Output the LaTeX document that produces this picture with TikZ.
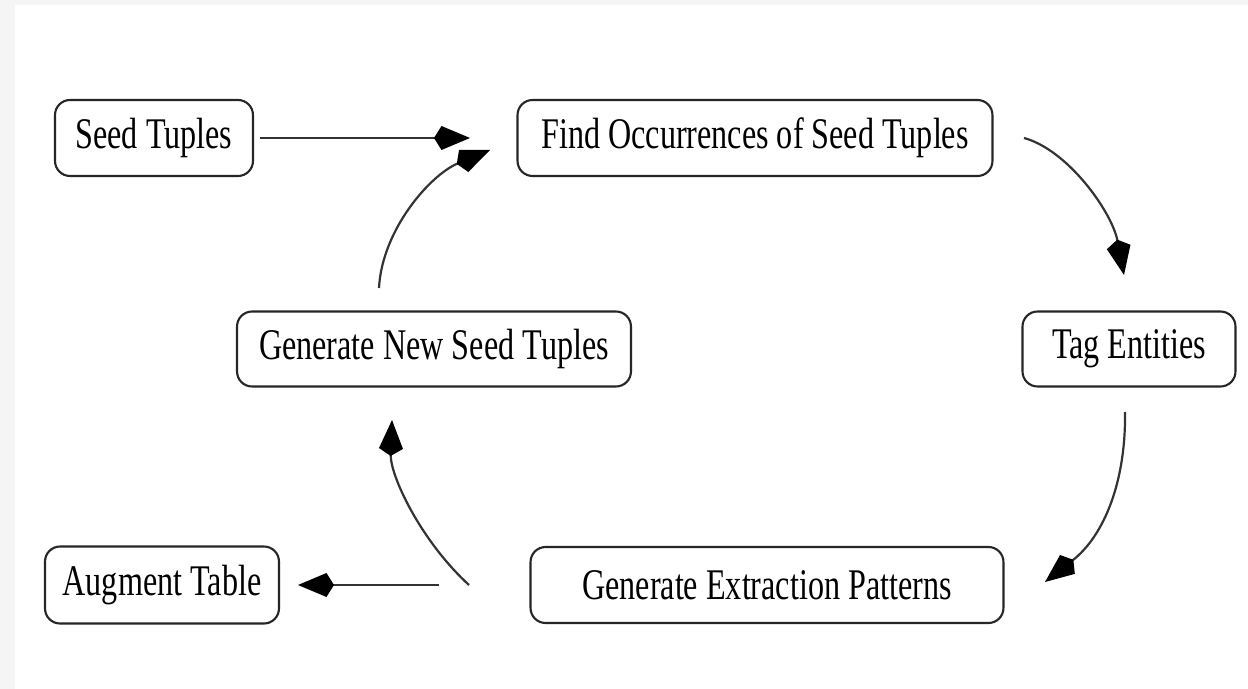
\documentclass[tikz,border=0pt]{standalone}
\usepackage{fontspec}
\setmainfont{Liberation Serif}
\usetikzlibrary{arrows.meta}

% tall, narrow lettering used in the stage boxes
\newcommand{\stagetext}[1]{\scalebox{1}[1.36]{#1}}

\tikzset{
  stage/.style={draw=black!85, line width=1.2pt, rounded corners=0.3cm,
    fill=white, font=\fontsize{18.3}{22}\selectfont, text=black},
  flow/.style={draw=black!80, line width=1.25pt,
    -{Kite[length=0.72cm, width=0.48cm, inset=0.15cm, fill=black, color=black]}},
}

\begin{document}
\begin{tikzpicture}[x=0.02cm, y=-0.02cm]
  % page background with a light margin band
  \fill[black!4] (0,0) rectangle (1248,689);
  \fill[white] (15,5) rectangle (1248,689);
  \useasboundingbox (0,0) rectangle (1248,689);

  % stages of the bootstrapping loop
  \node[stage, minimum width=3.96cm, minimum height=1.52cm] (seed) at (154,138) {\stagetext{Seed Tuples}};
  \node[stage, minimum width=9.5cm, minimum height=1.52cm] (find) at (755,138) {\stagetext{Find Occurrences of Seed Tuples}};
  \node[stage, minimum width=4.26cm, minimum height=1.5cm] (tag) at (1129,349) {\stagetext{Tag Entities}};
  \node[stage, minimum width=7.88cm, minimum height=1.5cm] (gennew) at (434,349) {\stagetext{Generate New Seed Tuples}};
  \node[stage, minimum width=4.68cm, minimum height=1.54cm] (aug) at (162,585) {\stagetext{Augment Table}};
  \node[stage, minimum width=9.46cm, minimum height=1.52cm] (genext) at (767,585) {\stagetext{Generate Extraction Patterns}};

  % free ends of the connectors
  \coordinate (s1) at (260,138);   \coordinate (e1) at (470,138);
  \coordinate (s2) at (1024,138);  \coordinate (e2) at (1124,275);
  \coordinate (s3) at (1125,412);  \coordinate (e3) at (1045,582);
  \coordinate (s4) at (469,585);   \coordinate (e4) at (392,420);
  \coordinate (s5) at (439,585);   \coordinate (e5) at (298,585);
  \coordinate (s6) at (379,288);   \coordinate (e6) at (490,150);

  \draw[flow] (s1) -- (e1);
  \draw[flow] (s2) .. controls (1068,150) and (1112,212) .. (e2);
  \draw[flow] (s3) .. controls (1126,480) and (1105,535) .. (e3);
  \draw[flow] (s4) .. controls (420,540) and (390,475) .. (e4);
  \draw[flow] (s5) -- (e5);
  \draw[flow] (s6) .. controls (382,230) and (430,175) .. (e6);
\end{tikzpicture}
\end{document}
